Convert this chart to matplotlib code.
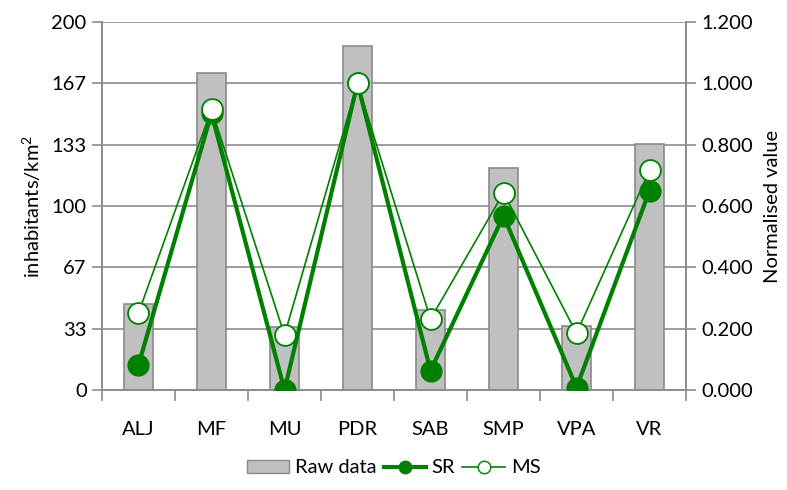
import matplotlib
matplotlib.use("Agg")
import matplotlib.pyplot as plt
import numpy as np
from matplotlib.lines import Line2D
from matplotlib.patches import Patch

categories = ["ALJ", "MF", "MU", "PDR", "SAB", "SMP", "VPA", "VR"]
raw_data = [46.7, 172.1, 34.4, 187.1, 43.5, 120.8, 35.0, 133.9]
sr_values = [0.082, 0.902, 0.000, 1.000, 0.063, 0.568, 0.008, 0.650]
ms_values = [0.251, 0.916, 0.179, 1.000, 0.231, 0.643, 0.185, 0.716]
left_ticks = [0, 200 / 6, 400 / 6, 100, 800 / 6, 1000 / 6, 200]
left_labels = ["0", "33", "67", "100", "133", "167", "200"]
right_ticks = [0.0, 0.2, 0.4, 0.6, 0.8, 1.0, 1.2]

GREEN = "#008000"
GRID = "#8c8c8c"
FS = 14.5
plt.rcParams["font.family"] = ["Lato", "DejaVu Sans"]

fig = plt.figure(figsize=(7.87, 4.9), dpi=100)
ax = fig.add_axes([0.1296, 0.2041, 0.7421, 0.7510])
x = np.arange(len(categories))

ax.bar(x, raw_data, width=0.41, color="#c0c0c0", edgecolor="#8a8a8a", linewidth=1.2, zorder=2)
ax.set_xlim(-0.5, len(categories) - 0.5)
ax.set_ylim(0, 200)
ax.set_yticks(left_ticks)
ax.set_yticklabels(left_labels)
ax.yaxis.grid(True, color=GRID, linewidth=1.2, zorder=0)
ax.set_axisbelow(True)
ax.set_xticks(x)
ax.set_xticklabels(categories)
ax.set_xticks(np.arange(-0.5, len(categories), 1.0), minor=True)
ax.tick_params(axis="x", which="major", length=0, pad=22, labelsize=FS)
ax.tick_params(axis="x", which="minor", length=8, width=1.2, color=GRID, direction="out")
ax.tick_params(axis="y", length=7, width=1.2, color=GRID, labelsize=FS, pad=4)
ax.set_ylabel("inhabitants/km$^{\\mathregular{2}}$", fontsize=FS, labelpad=6)
for side in ["left", "right", "bottom"]:
    ax.spines[side].set_color(GRID)
    ax.spines[side].set_linewidth(1.2)
ax.spines["top"].set_visible(False)

ax2 = ax.twinx()
ax2.plot(x, sr_values, color=GREEN, linewidth=3, marker="o", markersize=15,
         markerfacecolor=GREEN, markeredgecolor=GREEN, zorder=3)
ax2.plot(x, ms_values, color=GREEN, linewidth=1.2, marker="o", markersize=15,
         markerfacecolor="white", markeredgecolor=GREEN, markeredgewidth=1.3, zorder=4)
ax2.set_ylim(0, 1.2)
ax2.set_yticks(right_ticks)
ax2.set_yticklabels([f"{t:.3f}" for t in right_ticks])
ax2.tick_params(axis="y", length=7, width=1.2, color=GRID, labelsize=FS, pad=4)
ax2.set_ylabel("Normalised value", fontsize=FS, labelpad=8)
for side in ["left", "right", "bottom"]:
    ax2.spines[side].set_color(GRID)
    ax2.spines[side].set_linewidth(1.2)
ax2.spines["top"].set_visible(False)

handles = [
    Patch(facecolor="#c0c0c0", edgecolor="#8a8a8a", label="Raw data"),
    Line2D([], [], color=GREEN, linewidth=3, marker="o", markersize=9,
           markerfacecolor=GREEN, label="SR"),
    Line2D([], [], color=GREEN, linewidth=1.2, marker="o", markersize=9,
           markerfacecolor="white", markeredgecolor=GREEN, label="MS"),
]
fig.legend(handles=handles, loc="center", bbox_to_anchor=(0.5, 0.045), ncol=3,
           frameon=False, fontsize=FS, handlelength=2.1, handleheight=0.65,
           handletextpad=0.3, columnspacing=0.35)

fig.savefig("out.png", dpi=100)
